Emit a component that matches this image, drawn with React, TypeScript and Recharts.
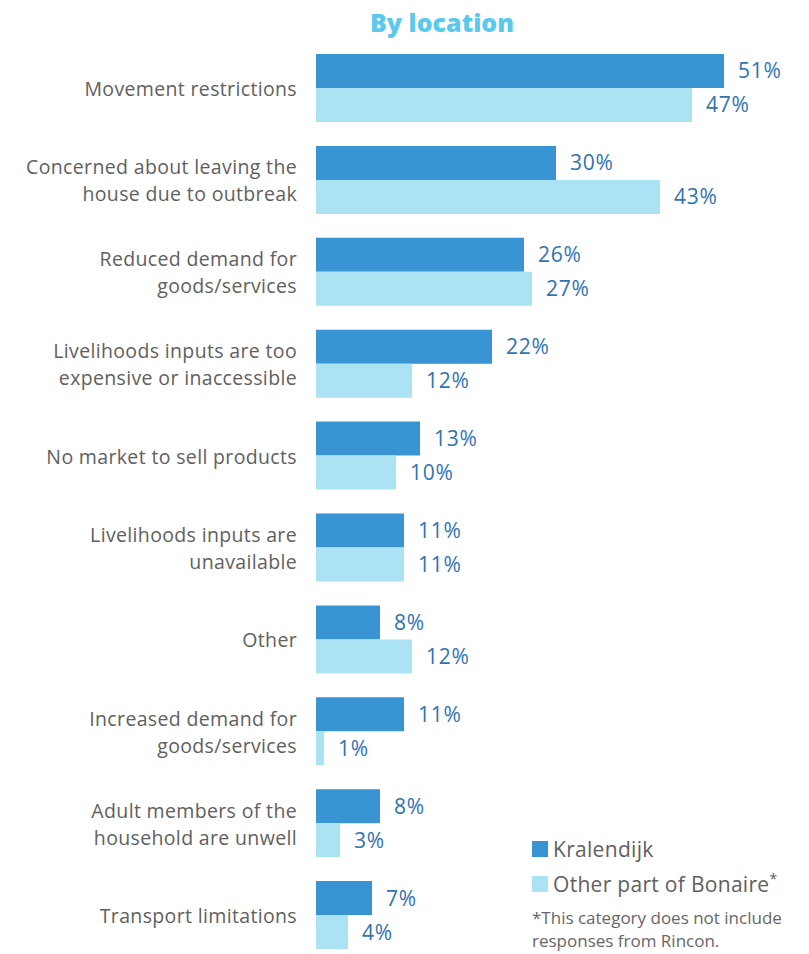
import React from "react";
import { BarChart, Bar, XAxis, YAxis, LabelList } from "recharts";

const categories: string[][] = [
  ["Movement restrictions"],
  ["Concerned about leaving the", "house due to outbreak"],
  ["Reduced demand for", "goods/services"],
  ["Livelihoods inputs are too", "expensive or inaccessible"],
  ["No market to sell products"],
  ["Livelihoods inputs are", "unavailable"],
  ["Other"],
  ["Increased demand for", "goods/services"],
  ["Adult members of the", "household are unwell"],
  ["Transport limitations"],
];
const kralendijk = [51, 30, 26, 22, 13, 11, 8, 11, 8, 7];
const otherBonaire = [47, 43, 27, 12, 10, 11, 12, 1, 3, 4];

const DARK = "#3994D3";
const LIGHT = "#ABE3F5";
const VALUE_TEXT = "#3073B2";
const LABEL_TEXT = "#606060";
const FONT = "'Open Sans', Lato, sans-serif";

const data = categories.map((lines, i) => ({
  key: lines.join(" "),
  kralendijk: kralendijk[i],
  other: otherBonaire[i],
}));

function CategoryTick(props: any) {
  const { x, y, index } = props;
  const lines: string[] = categories[index] ?? [];
  const lh = 27;
  const start = y - ((lines.length - 1) * lh) / 2;
  return (
    <text
      x={x}
      y={start}
      textAnchor="end"
      dominantBaseline="central"
      fill={LABEL_TEXT}
      fontSize={19.5}
      letterSpacing={0.35}
      fontFamily={FONT}
    >
      {lines.map((l, i) => (
        <tspan key={i} x={x} y={start + i * lh}>
          {l}
        </tspan>
      ))}
    </text>
  );
}

function LegendBox() {
  const row = (color: string, label: string, star: boolean) => (
    <div style={{ display: "flex", alignItems: "center", height: 35 }}>
      <span style={{ width: 16, height: 16, background: color, marginRight: 5 }} />
      <span style={{ fontSize: 21, color: LABEL_TEXT, letterSpacing: 0.3 }}>
        {label}
        {star && <sup style={{ fontSize: 14 }}>*</sup>}
      </span>
    </div>
  );
  return (
    <div style={{ position: "absolute", left: 532, top: 831, width: 280, fontFamily: FONT }}>
      {row(DARK, "Kralendijk", false)}
      {row(LIGHT, "Other part of Bonaire", true)}
      <div style={{ fontSize: 17, color: "#666", lineHeight: "23px", marginTop: 5, whiteSpace: "nowrap" }}>
        *This category does not include
        <br />
        responses from Rincon.
      </div>
    </div>
  );
}

const valueStyle = { fontSize: 21, fill: VALUE_TEXT, fontFamily: FONT, letterSpacing: 0.8 };

export default function App() {
  return (
    <div
      style={{
        position: "absolute",
        left: 0,
        top: 0,
        width: 809,
        height: 954,
        overflow: "hidden",
        background: "#fff",
      }}
    >
      <div
        style={{
          position: "absolute",
          left: 0,
          width: 884,
          top: 5,
          textAlign: "center",
          fontFamily: FONT,
          fontWeight: 800,
          fontSize: 25,
          color: "#5BC8EE",
        }}
      >
        By location
      </div>
      <BarChart
        width={809}
        height={961}
        data={data}
        layout="vertical"
        margin={{ top: 42, right: 13, bottom: 0, left: 0 }}
        barGap={0}
        barSize={34}
      >
        <XAxis type="number" domain={[0, 60]} hide />
        <YAxis
          type="category"
          dataKey="key"
          width={316}
          axisLine={false}
          tickLine={false}
          tickSize={0}
          tickMargin={19}
          interval={0}
          tick={<CategoryTick />}
        />
        <Bar dataKey="kralendijk" fill={DARK} isAnimationActive={false}>
          <LabelList
            dataKey="kralendijk"
            position="right"
            offset={14}
            formatter={(v: number) => `${v}%`}
            style={valueStyle}
          />
        </Bar>
        <Bar dataKey="other" fill={LIGHT} isAnimationActive={false}>
          <LabelList
            dataKey="other"
            position="right"
            offset={14}
            formatter={(v: number) => `${v}%`}
            style={valueStyle}
          />
        </Bar>
      </BarChart>
      <LegendBox />
    </div>
  );
}
